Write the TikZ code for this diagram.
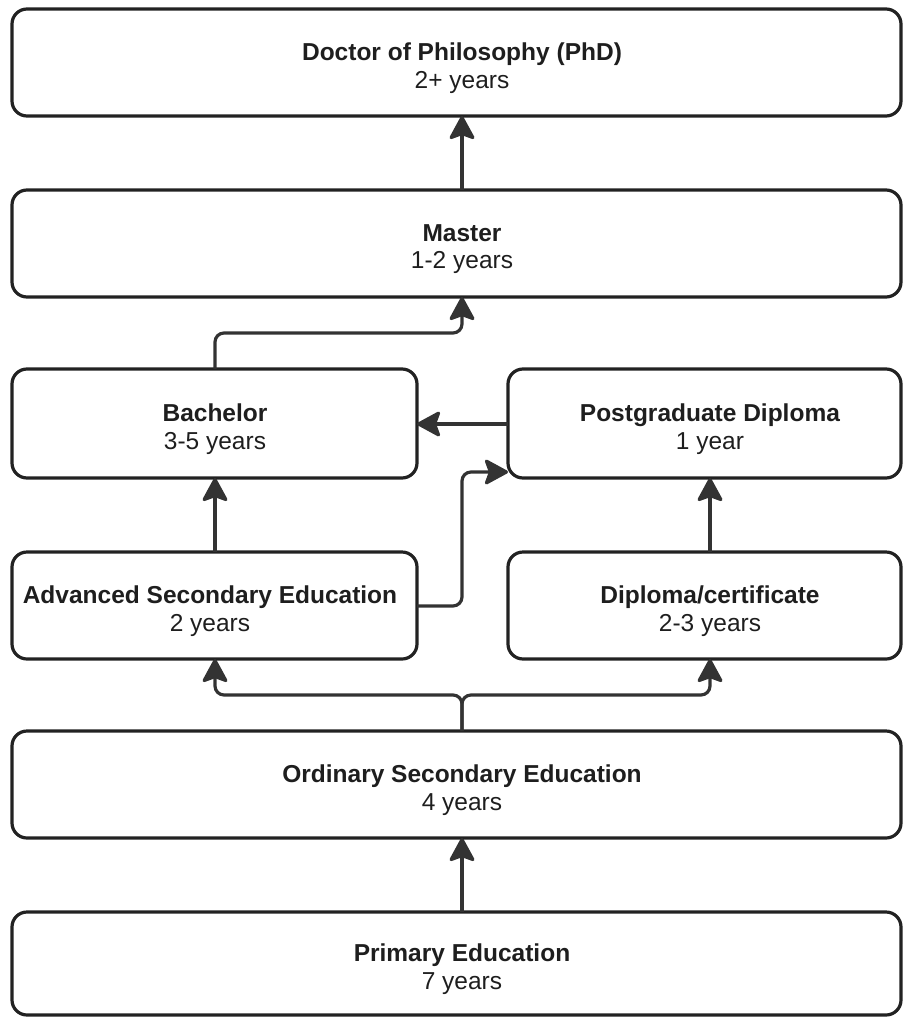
\documentclass[tikz,border=0pt]{standalone}
\usepackage{fontspec}
\setmainfont{Liberation Sans}
\usetikzlibrary{arrows.meta,calc}
\definecolor{boxline}{HTML}{222222}
\definecolor{linkline}{HTML}{333333}
\definecolor{ink}{HTML}{1E1E1E}
\begin{document}
\begin{tikzpicture}[x=1pt,y=-1pt,
  stage/.style={draw=boxline, line width=3.2pt, rounded corners=15pt, inner sep=0pt, outer sep=0pt},
  wide/.style={stage, minimum width=889pt, minimum height=107pt},
  half/.style={stage, minimum height=107pt},
  label/.style={text=ink, align=center, font=\fontsize{24.5}{27.5}\selectfont, inner sep=0pt},
  >={Stealth[length=26pt,width=28pt,inset=5pt,round]},
  link/.style={draw=linkline, fill=linkline, line width=3.2pt, ->},
  elbow/.style={rounded corners=9pt}]
\useasboundingbox (0,0) rectangle (904,1018);

% stages
\node[wide, fill=none] (phd) at (456.5,62.5) {};
\node[wide] (master) at (456.5,243.5) {};
\node[half, minimum width=405pt, minimum height=109pt] (bachelor) at (214.5,423.5) {};
\node[half, minimum width=393pt, minimum height=109pt] (pgd) at (704.5,423.5) {};
\node[half, minimum width=405pt] (adv) at (214.5,605.5) {};
\node[half, minimum width=393pt] (dip) at (704.5,605.5) {};
\node[wide] (ord) at (456.5,784.5) {};
\node[wide, minimum height=103pt] (pri) at (456.5,963.5) {};

% captions
\node[label] (phdt) at (462,68) {\textbf{Doctor of Philosophy (PhD)}\\2+ years};
\node[label] (mastert) at (462,249) {\textbf{Master}\\1-2 years};
\node[label] (bacht) at (215,429) {\textbf{Bachelor}\\3-5 years};
\node[label] (pgdt) at (710,429) {\textbf{Postgraduate Diploma}\\1 year};
\node[label] (advt) at (210,611) {\textbf{Advanced Secondary Education}\\2 years};
\node[label] (dipt) at (710,611) {\textbf{Diploma/certificate}\\2-3 years};
\node[label] (ordt) at (462,790) {\textbf{Ordinary Secondary Education}\\4 years};
\node[label] (prit) at (462,969) {\textbf{Primary Education}\\7 years};

% routing points
\coordinate (bm) at (215,333);
\coordinate (ab) at (462,606);
\coordinate (ajoin) at (462,472);
\coordinate (split) at (462,695);

% progression arrows (corners rounded only along the path, tips kept sharp)
\draw[link, fill=none] (master.north -| mastert) -- (phd.south -| phdt);
\draw[link, fill=none] (bachelor.north -| bacht) [elbow] -- (bm) -| (master.south -| mastert) [sharp corners];
\draw[link, fill=none] (pgd.west |- 0,424) -- (bachelor.east |- 0,424);
\draw[link, fill=none] (adv.east |- ab) [elbow] -- (ab) -- (ajoin) -- (pgd.west |- ajoin) [sharp corners];
\draw[link, fill=none] (adv.north -| bacht) -- (bachelor.south -| bacht);
\draw[link, fill=none] (dip.north -| pgdt) -- (pgd.south -| pgdt);
\draw[link, fill=none] (ord.north -| ordt) [elbow] -- (split) -| (adv.south -| bacht) [sharp corners];
\draw[link, fill=none] (ord.north -| ordt) [elbow] -- (split) -| (dip.south -| pgdt) [sharp corners];
\draw[link, fill=none] (pri.north -| prit) -- (ord.south -| ordt);
\end{tikzpicture}
\end{document}
